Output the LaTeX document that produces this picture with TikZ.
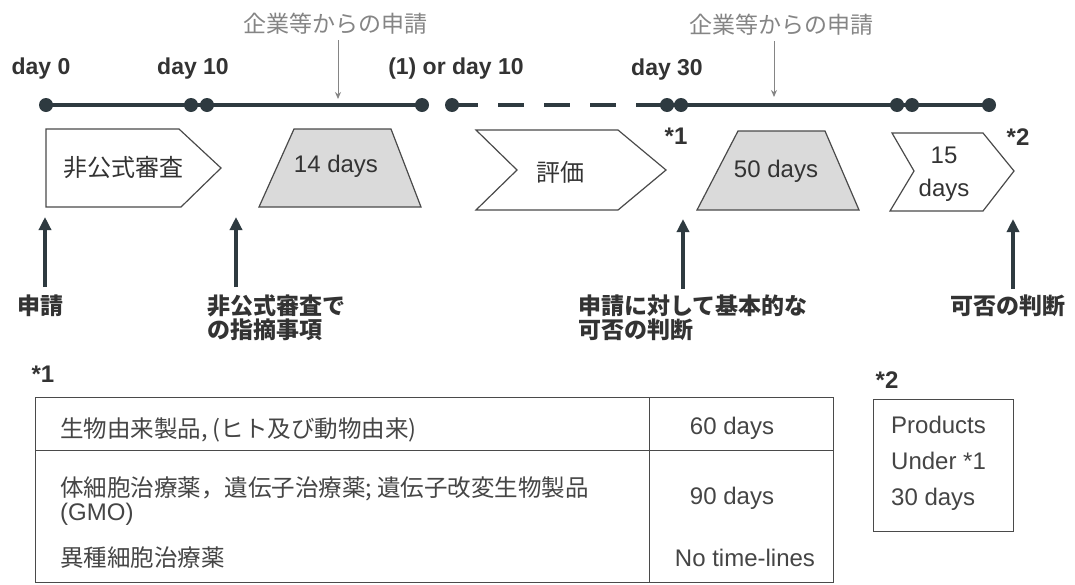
\documentclass[tikz,border=0pt]{standalone}
\usepackage{fontspec}
\setmainfont{Liberation Sans}
\newfontfamily\cjk{Noto Sans CJK JP}
\usetikzlibrary{arrows.meta}
\definecolor{linec}{HTML}{2E3A40}
\definecolor{txtdark}{HTML}{333333}
\definecolor{graytxt}{HTML}{858585}
\definecolor{outc}{HTML}{4A4A4A}
\definecolor{shpfill}{HTML}{DADADA}
\definecolor{tabtxt}{HTML}{454545}
\newcommand\myfs[2]{\fontsize{#1}{#2}\selectfont}
\begin{document}
\begin{tikzpicture}[x=1pt,y=-1pt,
  tline/.style={line width=4.5pt, draw=linec},
  tdash/.style={line width=4.5pt, draw=linec, dash pattern=on 26pt off 20pt},
  dot/.style={circle, fill=linec, inner sep=0pt, minimum size=14pt},
  daylab/.style={font={\myfs{23}{26}\bfseries}, text=txtdark, inner sep=0pt},
  reqlab/.style={font={\cjk\myfs{23}{26}}, text=graytxt, inner sep=0pt},
  reqarrow/.style={draw=graytxt, line width=1pt, -{Stealth[length=7pt,width=6pt]}},
  shp/.style={draw=outc, line width=1.2pt, line join=miter},
  shptxt/.style={font={\myfs{24}{33}}, text=txtdark, inner sep=0pt},
  upar/.style={draw=linec, line width=4pt, -{Triangle[length=13pt,width=12pt]}},
  botlab/.style={font={\cjk\bfseries\myfs{23}{24}}, text=txtdark, inner sep=0pt, anchor=west, align=left},
  star/.style={font={\myfs{24}{26}\bfseries}, text=txtdark, inner sep=0pt},
  tabtext/.style={font={\myfs{24}{24}}, text=tabtxt, inner sep=0pt},
  tabcjk/.style={font={\cjk\myfs{23.5}{24}}, text=tabtxt, inner sep=0pt},
  tabbox/.style={draw=outc, line width=1pt}
]
\useasboundingbox[fill=white] (0,0) rectangle (1075,584);

% ---- top labels
\node[daylab] (l0) at (41,69) {day 0};
\node[daylab] (l10) at (193,69) {day 10};
\node[daylab] (lor) at (456,69) {(1) or day 10};
\node[daylab] (l30) at (667,70) {day 30};
\node[reqlab] (r1) at (335,24) {企業等からの申請};
\node[reqlab] (r2) at (781,25) {企業等からの申請};
\coordinate (a1s) at (338,40);
\coordinate (a1e) at (338,99);
\coordinate (a2s) at (774,41);
\coordinate (a2e) at (774,97);
\draw[reqarrow] (a1s) -- (a1e);
\draw[reqarrow] (a2s) -- (a2e);

% ---- timeline
\node[dot] (d0) at (46,105) {};
\node[dot] (d1) at (191,105) {};
\node[dot] (d2) at (207,105) {};
\node[dot] (d3) at (422,105) {};
\node[dot] (d4) at (452,105) {};
\node[dot] (d5) at (667,105) {};
\node[dot] (d6) at (681,105) {};
\node[dot] (d7) at (897,105) {};
\node[dot] (d8) at (912,105) {};
\node[dot] (d9) at (989,105) {};
\draw[tline] (d0.center) -- (d3.center);
\draw[tdash] (d4.center) -- (d5.center);
\draw[tline] (d5.center) -- (d9.center);

% ---- shapes
\draw[shp, fill=white] (46,129) -- (179,129) -- (221,168) -- (181,207) -- (46,207) -- cycle;
\draw[shp, fill=shpfill] (259,207) -- (294,129) -- (391,129) -- (421,207) -- cycle;
\draw[shp, fill=white] (476,130) -- (618,130) -- (666,170) -- (618,210) -- (476,210) -- (517,170) -- cycle;
\draw[shp, fill=shpfill] (697,210) -- (738,131) -- (825,131) -- (859,210) -- cycle;
\draw[shp, fill=white] (892,133) -- (983,133) -- (1014,171) -- (983,211) -- (890,211) -- (914,171) -- cycle;

\node[shptxt, font={\cjk\myfs{24}{26}}] (t1) at (123,168) {非公式審査};
\node[shptxt] (t2) at (336,166) {14 days};
\node[shptxt, font={\cjk\myfs{24}{26}}] (t3) at (560,172) {評価};
\node[shptxt] (t4) at (776,171) {50 days};
\node[shptxt, align=center] (t5) at (944,174) {15\\days};

\node[star] (s1) at (676,136) {*1};
\node[star] (s2) at (1018,137) {*2};

% ---- up arrows
\coordinate (u1s) at (45,287);  \coordinate (u1e) at (45,217);
\coordinate (u2s) at (236,287); \coordinate (u2e) at (236,217);
\coordinate (u3s) at (683,289); \coordinate (u3e) at (683,219);
\coordinate (u4s) at (1013,289); \coordinate (u4e) at (1013,219);
\draw[upar] (u1s) -- (u1e);
\draw[upar] (u2s) -- (u2e);
\draw[upar] (u3s) -- (u3e);
\draw[upar] (u4s) -- (u4e);

\node[botlab] (b1) at (17,306) {申請};
\node[botlab] (b2) at (207,318) {非公式審査で\\の指摘事項};
\node[botlab] (b3) at (578,318) {申請に対して基本的な\\可否の判断};
\node[botlab] (b4) at (950,306) {可否の判断};

\node[star] (s1b) at (43,374) {*1};
\node[star] (s2b) at (887,380) {*2};

% ---- table
\draw[tabbox] (35,397) rectangle (833,582);
\draw[tabbox] (649,397) -- (649,582);
\draw[tabbox] (35,450) -- (833,450);
\node[tabcjk, anchor=west] (c11) at (60,430) {生物由来製品, (ヒト及び動物由来)};
\node[tabtext, anchor=west, align=left] (c21) at (60,501) {{\cjk\myfs{23.5}{24}体細胞治療薬，遺伝子治療薬; 遺伝子改変生物製品}\\(GMO)};
\node[tabcjk, anchor=west] (c31) at (60,558) {異種細胞治療薬};
\node[tabtext] (c12) at (732,428) {60 days};
\node[tabtext] (c22) at (732,498) {90 days};
\node[tabtext] (c32) at (745,558) {No time-lines};

% ---- *2 box
\draw[tabbox] (873,399) rectangle (1013,531);
\node[tabtext, anchor=west, align=left, font={\myfs{24}{36}}] (p2) at (891,463) {Products\\Under *1\\30 days};
\end{tikzpicture}
\end{document}
